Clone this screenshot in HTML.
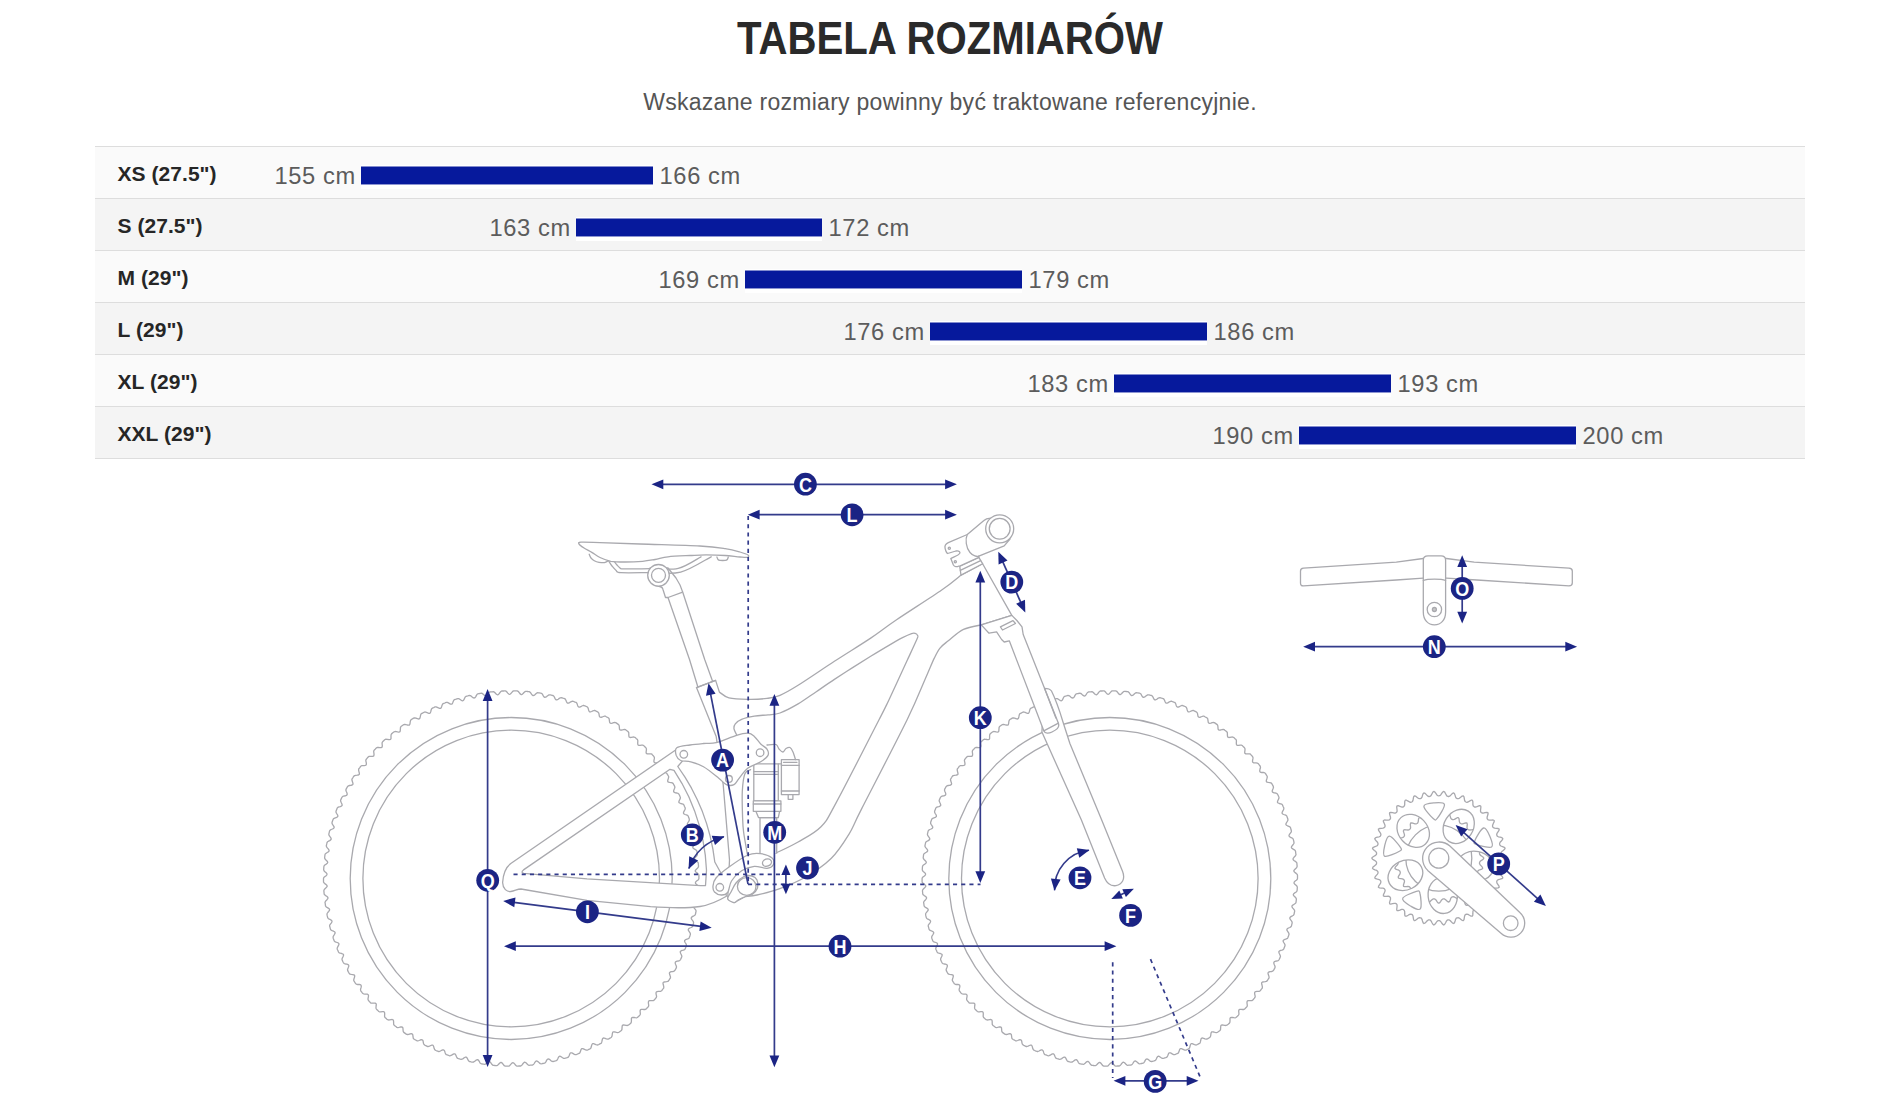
<!DOCTYPE html>
<html lang="pl"><head><meta charset="utf-8"><title>Tabela rozmiarów</title>
<style>
html,body{margin:0;padding:0;background:#fff}
body{width:1900px;height:1102px;position:relative;overflow:hidden;font-family:"Liberation Sans",sans-serif}
h1{position:absolute;left:0;top:8px;width:1900px;margin:0;text-align:center;font-size:46px;line-height:60px;font-weight:bold;color:#2a2a2a;letter-spacing:0;transform:scaleX(0.873);transform-origin:949.5px 0}
p.sub{position:absolute;left:0;top:87px;width:1900px;margin:0;text-align:center;font-size:23px;line-height:30px;color:#555;letter-spacing:0.28px}
.tbl{position:absolute;left:95px;top:146px;width:1710px;border-bottom:1px solid #dddddd}
.row{position:relative;height:51px;border-top:1px solid #dddddd;background:#fafafa}
.row.r1{background:#f4f4f4}
.nm{position:absolute;left:22.5px;top:14px;font-size:21px;line-height:26px;font-weight:bold;color:#262626;letter-spacing:0.05px}
.v{position:absolute;top:14px;font-size:23.7px;line-height:30px;color:#5c5c5c;white-space:nowrap;letter-spacing:0.6px}
.bar{position:absolute;top:18px;height:24px;background:linear-gradient(#fff 0 1px,#838cce 1px 2px,#06199c 2px 19px,#8d95d2 19px 20px,#fff 20px 24px)}
svg{position:absolute;left:0;top:0}
.lt{fill:#fff;stroke:none;font-family:"Liberation Sans",sans-serif;font-weight:bold}
</style></head><body>
<h1>TABELA ROZMIARÓW</h1>
<p class="sub">Wskazane rozmiary powinny być traktowane referencyjnie.</p>
<div class="tbl">
<div class="row r0"><span class="nm">XS (27.5")</span><span class="v l" style="right:1449.2px">155 cm</span><span class="bar" style="left:266px;width:292px"></span><span class="v" style="left:564.6px">166 cm</span></div>
<div class="row r1"><span class="nm">S (27.5")</span><span class="v l" style="right:1234.2px">163 cm</span><span class="bar" style="left:481px;width:246px"></span><span class="v" style="left:733.6px">172 cm</span></div>
<div class="row r0"><span class="nm">M (29")</span><span class="v l" style="right:1065.2px">169 cm</span><span class="bar" style="left:650px;width:277px"></span><span class="v" style="left:933.6px">179 cm</span></div>
<div class="row r1"><span class="nm">L (29")</span><span class="v l" style="right:880.2px">176 cm</span><span class="bar" style="left:835px;width:277px"></span><span class="v" style="left:1118.6px">186 cm</span></div>
<div class="row r0"><span class="nm">XL (29")</span><span class="v l" style="right:696.2px">183 cm</span><span class="bar" style="left:1019px;width:277px"></span><span class="v" style="left:1302.6px">193 cm</span></div>
<div class="row r1"><span class="nm">XXL (29")</span><span class="v l" style="right:511.2px">190 cm</span><span class="bar" style="left:1204px;width:277px"></span><span class="v" style="left:1487.6px">200 cm</span></div>
</div>
<svg width="1900" height="1102" viewBox="0 0 1900 1102">
<g fill="none" stroke="#a9a9ae" stroke-width="1.3" stroke-linejoin="round" stroke-linecap="round">
<clipPath id="ov"><ellipse cx="1413.2" cy="830.8" rx="18" ry="14.6" transform="rotate(-133 1413.2 830.8)"/><ellipse cx="1458.7" cy="826.4" rx="18" ry="14.6" transform="rotate(-58 1458.7 826.4)"/><ellipse cx="1475.5" cy="866.0" rx="18" ry="14.6" transform="rotate(12 1475.5 866.0)"/><ellipse cx="1442.7" cy="895.5" rx="18" ry="14.6" transform="rotate(84 1442.7 895.5)"/><ellipse cx="1405.4" cy="875.2" rx="18" ry="14.6" transform="rotate(153 1405.4 875.2)"/></clipPath>
<g id="whl"><path d="M698.9 878.5 L698.6 879.4 L697.7 880.2 L696.6 881.0 L695.7 881.9 L695.4 882.7 L695.6 883.6 L696.5 884.4 L697.5 885.3 L698.4 886.2 L698.7 887.1 L698.7 888.0 L698.6 888.8 L698.6 889.7 L698.5 890.5 L698.1 891.4 L697.2 892.2 L696.1 892.9 L695.1 893.7 L694.7 894.5 L694.9 895.4 L695.7 896.3 L696.7 897.3 L697.5 898.2 L697.8 899.1 L697.7 899.9 L697.6 900.8 L697.5 901.6 L697.4 902.5 L696.9 903.3 L695.9 904.0 L694.8 904.7 L693.8 905.4 L693.3 906.2 L693.5 907.1 L694.2 908.1 L695.1 909.1 L695.8 910.1 L696.1 911.0 L695.9 911.8 L695.8 912.7 L695.6 913.5 L695.4 914.4 L694.9 915.2 L693.9 915.8 L692.7 916.4 L691.7 917.1 L691.2 917.8 L691.3 918.7 L691.9 919.7 L692.8 920.8 L693.4 921.9 L693.6 922.8 L693.4 923.6 L693.2 924.4 L693.0 925.3 L692.8 926.1 L692.2 926.9 L691.2 927.5 L689.9 928.0 L688.8 928.6 L688.3 929.3 L688.3 930.2 L688.9 931.2 L689.7 932.4 L690.3 933.4 L690.4 934.4 L690.1 935.2 L689.9 936.0 L689.6 936.8 L689.3 937.6 L688.8 938.4 L687.7 938.9 L686.4 939.3 L685.3 939.9 L684.6 940.5 L684.6 941.4 L685.1 942.5 L685.9 943.7 L686.4 944.8 L686.4 945.7 L686.1 946.5 L685.8 947.3 L685.5 948.1 L685.2 948.9 L684.6 949.6 L683.4 950.1 L682.1 950.4 L681.0 950.9 L680.3 951.5 L680.3 952.4 L680.7 953.5 L681.3 954.7 L681.8 955.9 L681.8 956.8 L681.4 957.6 L681.1 958.4 L680.7 959.2 L680.3 959.9 L679.6 960.6 L678.5 961.0 L677.1 961.2 L676.0 961.6 L675.3 962.2 L675.2 963.1 L675.5 964.2 L676.1 965.5 L676.5 966.7 L676.4 967.6 L676.0 968.4 L675.6 969.1 L675.2 969.9 L674.7 970.6 L674.0 971.2 L672.9 971.5 L671.5 971.7 L670.3 972.0 L669.6 972.5 L669.4 973.4 L669.7 974.6 L670.2 975.9 L670.5 977.1 L670.4 978.0 L669.9 978.7 L669.4 979.5 L669.0 980.2 L668.5 980.9 L667.8 981.4 L666.6 981.7 L665.2 981.8 L664.0 982.0 L663.2 982.5 L663.0 983.4 L663.2 984.5 L663.6 985.9 L663.8 987.1 L663.7 988.0 L663.2 988.7 L662.6 989.4 L662.1 990.1 L661.6 990.8 L660.8 991.3 L659.6 991.4 L658.3 991.4 L657.1 991.6 L656.3 992.0 L656.0 992.9 L656.1 994.1 L656.4 995.4 L656.6 996.6 L656.3 997.5 L655.8 998.2 L655.2 998.9 L654.7 999.5 L654.1 1000.2 L653.3 1000.6 L652.1 1000.7 L650.7 1000.6 L649.5 1000.7 L648.7 1001.1 L648.4 1001.9 L648.4 1003.1 L648.6 1004.5 L648.7 1005.7 L648.4 1006.6 L647.8 1007.2 L647.2 1007.8 L646.6 1008.5 L646.0 1009.1 L645.2 1009.5 L644.0 1009.5 L642.6 1009.3 L641.4 1009.3 L640.6 1009.6 L640.2 1010.4 L640.1 1011.6 L640.3 1013.0 L640.3 1014.2 L639.9 1015.1 L639.3 1015.7 L638.7 1016.3 L638.0 1016.9 L637.4 1017.5 L636.5 1017.8 L635.3 1017.7 L634.0 1017.5 L632.8 1017.4 L631.9 1017.7 L631.4 1018.4 L631.4 1019.6 L631.4 1021.0 L631.3 1022.2 L630.9 1023.1 L630.2 1023.6 L629.6 1024.2 L628.9 1024.7 L628.2 1025.2 L627.4 1025.5 L626.1 1025.4 L624.8 1025.1 L623.6 1024.9 L622.7 1025.1 L622.2 1025.9 L622.1 1027.0 L622.0 1028.4 L621.9 1029.6 L621.4 1030.5 L620.7 1031.0 L620.0 1031.5 L619.3 1032.0 L618.6 1032.4 L617.7 1032.7 L616.5 1032.4 L615.2 1032.0 L614.0 1031.8 L613.1 1031.9 L612.6 1032.7 L612.3 1033.8 L612.2 1035.2 L611.9 1036.4 L611.4 1037.2 L610.7 1037.7 L610.0 1038.1 L609.2 1038.6 L608.5 1039.0 L607.6 1039.2 L606.4 1038.9 L605.1 1038.4 L604.0 1038.0 L603.1 1038.2 L602.5 1038.8 L602.2 1040.0 L601.9 1041.4 L601.6 1042.5 L601.1 1043.3 L600.3 1043.7 L599.5 1044.1 L598.8 1044.5 L598.0 1044.9 L597.1 1045.0 L595.9 1044.6 L594.7 1044.1 L593.6 1043.7 L592.6 1043.7 L592.0 1044.4 L591.6 1045.5 L591.3 1046.8 L590.9 1048.0 L590.3 1048.7 L589.5 1049.1 L588.7 1049.4 L588.0 1049.8 L587.2 1050.1 L586.3 1050.2 L585.1 1049.7 L583.9 1049.1 L582.8 1048.6 L581.9 1048.6 L581.2 1049.2 L580.8 1050.3 L580.4 1051.6 L579.9 1052.8 L579.2 1053.4 L578.4 1053.7 L577.6 1054.0 L576.8 1054.4 L576.0 1054.7 L575.1 1054.6 L574.0 1054.1 L572.8 1053.4 L571.8 1052.8 L570.8 1052.8 L570.1 1053.3 L569.6 1054.4 L569.1 1055.7 L568.6 1056.8 L567.9 1057.4 L567.1 1057.7 L566.3 1057.9 L565.4 1058.2 L564.6 1058.4 L563.7 1058.4 L562.6 1057.8 L561.5 1057.0 L560.5 1056.4 L559.6 1056.2 L558.8 1056.8 L558.2 1057.8 L557.7 1059.0 L557.1 1060.1 L556.3 1060.7 L555.5 1060.9 L554.6 1061.1 L553.8 1061.3 L553.0 1061.5 L552.1 1061.4 L551.0 1060.7 L550.0 1059.8 L549.0 1059.1 L548.1 1059.0 L547.3 1059.4 L546.6 1060.4 L546.0 1061.6 L545.3 1062.7 L544.5 1063.2 L543.7 1063.4 L542.9 1063.5 L542.0 1063.7 L541.2 1063.8 L540.3 1063.6 L539.3 1062.9 L538.3 1061.9 L537.3 1061.2 L536.4 1061.0 L535.6 1061.4 L534.9 1062.3 L534.2 1063.5 L533.5 1064.5 L532.6 1065.0 L531.8 1065.1 L530.9 1065.2 L530.1 1065.2 L529.2 1065.3 L528.3 1065.1 L527.4 1064.3 L526.5 1063.3 L525.6 1062.5 L524.7 1062.2 L523.9 1062.6 L523.1 1063.5 L522.3 1064.6 L521.5 1065.5 L520.7 1066.0 L519.8 1066.0 L518.9 1066.0 L518.1 1066.1 L517.2 1066.1 L516.3 1065.8 L515.5 1065.0 L514.6 1063.9 L513.7 1063.0 L512.9 1062.7 L512.0 1063.0 L511.2 1063.9 L510.3 1064.9 L509.5 1065.8 L508.6 1066.2 L507.8 1066.2 L506.9 1066.2 L506.0 1066.1 L505.2 1066.1 L504.3 1065.7 L503.5 1064.8 L502.7 1063.7 L501.9 1062.8 L501.1 1062.4 L500.2 1062.7 L499.3 1063.5 L498.4 1064.5 L497.5 1065.3 L496.6 1065.6 L495.7 1065.6 L494.9 1065.5 L494.0 1065.4 L493.2 1065.3 L492.4 1064.9 L491.6 1064.0 L490.9 1062.8 L490.1 1061.8 L489.3 1061.4 L488.4 1061.6 L487.5 1062.3 L486.5 1063.3 L485.5 1064.1 L484.6 1064.3 L483.8 1064.2 L482.9 1064.1 L482.1 1063.9 L481.2 1063.8 L480.4 1063.3 L479.7 1062.3 L479.1 1061.1 L478.4 1060.1 L477.6 1059.6 L476.8 1059.8 L475.8 1060.4 L474.7 1061.3 L473.7 1062.0 L472.8 1062.2 L472.0 1062.1 L471.1 1061.9 L470.3 1061.7 L469.4 1061.5 L468.7 1061.0 L468.0 1059.9 L467.5 1058.7 L466.8 1057.6 L466.1 1057.1 L465.2 1057.2 L464.2 1057.8 L463.1 1058.6 L462.0 1059.2 L461.1 1059.4 L460.3 1059.2 L459.4 1058.9 L458.6 1058.7 L457.8 1058.4 L457.1 1057.9 L456.5 1056.8 L456.0 1055.5 L455.5 1054.4 L454.8 1053.8 L453.9 1053.9 L452.8 1054.4 L451.6 1055.2 L450.5 1055.7 L449.6 1055.8 L448.8 1055.5 L448.0 1055.2 L447.2 1054.9 L446.4 1054.7 L445.7 1054.0 L445.2 1052.9 L444.8 1051.6 L444.3 1050.5 L443.6 1049.9 L442.7 1049.8 L441.6 1050.3 L440.5 1051.0 L439.3 1051.5 L438.4 1051.5 L437.6 1051.2 L436.8 1050.8 L436.0 1050.5 L435.2 1050.1 L434.6 1049.5 L434.1 1048.3 L433.8 1047.0 L433.4 1045.9 L432.8 1045.2 L431.9 1045.1 L430.8 1045.5 L429.5 1046.1 L428.4 1046.5 L427.4 1046.5 L426.7 1046.1 L425.9 1045.7 L425.1 1045.3 L424.4 1044.9 L423.8 1044.2 L423.4 1043.1 L423.2 1041.7 L422.9 1040.5 L422.3 1039.8 L421.4 1039.7 L420.2 1040.0 L419.0 1040.5 L417.8 1040.9 L416.9 1040.8 L416.1 1040.3 L415.4 1039.9 L414.6 1039.5 L413.9 1039.0 L413.3 1038.3 L413.1 1037.1 L412.9 1035.7 L412.7 1034.5 L412.1 1033.8 L411.3 1033.6 L410.1 1033.8 L408.8 1034.3 L407.6 1034.5 L406.7 1034.4 L405.9 1033.9 L405.2 1033.4 L404.5 1032.9 L403.8 1032.4 L403.3 1031.7 L403.1 1030.5 L403.0 1029.1 L402.9 1027.9 L402.4 1027.1 L401.5 1026.9 L400.3 1027.0 L399.0 1027.4 L397.8 1027.6 L396.9 1027.4 L396.2 1026.8 L395.5 1026.3 L394.8 1025.8 L394.2 1025.2 L393.7 1024.5 L393.6 1023.2 L393.6 1021.9 L393.5 1020.7 L393.1 1019.8 L392.2 1019.5 L391.0 1019.6 L389.7 1019.9 L388.5 1020.0 L387.6 1019.7 L386.9 1019.2 L386.3 1018.6 L385.6 1018.0 L385.0 1017.5 L384.6 1016.6 L384.6 1015.4 L384.7 1014.0 L384.6 1012.8 L384.3 1012.0 L383.5 1011.6 L382.3 1011.6 L380.9 1011.8 L379.7 1011.9 L378.8 1011.5 L378.2 1010.9 L377.6 1010.3 L377.0 1009.7 L376.4 1009.1 L376.0 1008.2 L376.0 1007.0 L376.2 1005.7 L376.3 1004.4 L376.0 1003.6 L375.2 1003.2 L374.0 1003.1 L372.6 1003.2 L371.4 1003.2 L370.5 1002.8 L370.0 1002.1 L369.4 1001.5 L368.8 1000.8 L368.3 1000.2 L368.0 999.3 L368.1 998.1 L368.4 996.8 L368.5 995.5 L368.2 994.7 L367.5 994.2 L366.3 994.1 L364.9 994.1 L363.7 993.9 L362.9 993.5 L362.3 992.8 L361.8 992.1 L361.3 991.5 L360.8 990.8 L360.5 989.9 L360.7 988.7 L361.1 987.4 L361.3 986.2 L361.1 985.3 L360.4 984.7 L359.2 984.5 L357.8 984.5 L356.6 984.3 L355.8 983.8 L355.3 983.0 L354.8 982.3 L354.4 981.6 L353.9 980.9 L353.7 980.0 L354.0 978.8 L354.4 977.5 L354.7 976.3 L354.6 975.4 L353.9 974.9 L352.7 974.6 L351.3 974.4 L350.1 974.1 L349.4 973.6 L348.9 972.8 L348.5 972.1 L348.1 971.4 L347.7 970.6 L347.5 969.7 L347.9 968.5 L348.4 967.3 L348.8 966.1 L348.7 965.2 L348.0 964.6 L346.9 964.2 L345.5 964.0 L344.3 963.6 L343.6 963.0 L343.2 962.3 L342.8 961.5 L342.5 960.7 L342.1 959.9 L342.0 959.0 L342.4 957.9 L343.0 956.7 L343.5 955.5 L343.5 954.6 L342.8 954.0 L341.7 953.5 L340.4 953.2 L339.2 952.8 L338.5 952.1 L338.2 951.3 L337.9 950.5 L337.5 949.7 L337.2 948.9 L337.2 948.0 L337.7 946.9 L338.4 945.7 L338.9 944.6 L338.9 943.7 L338.3 943.0 L337.3 942.5 L336.0 942.1 L334.8 941.6 L334.2 940.9 L333.9 940.1 L333.6 939.3 L333.3 938.5 L333.1 937.6 L333.1 936.7 L333.7 935.6 L334.4 934.5 L335.0 933.4 L335.1 932.5 L334.6 931.8 L333.5 931.2 L332.2 930.7 L331.1 930.2 L330.5 929.4 L330.3 928.6 L330.1 927.8 L329.9 926.9 L329.6 926.1 L329.7 925.2 L330.4 924.2 L331.2 923.1 L331.9 922.0 L332.0 921.1 L331.5 920.4 L330.5 919.7 L329.3 919.2 L328.2 918.5 L327.7 917.7 L327.5 916.9 L327.3 916.1 L327.1 915.2 L327.0 914.4 L327.1 913.5 L327.8 912.5 L328.7 911.4 L329.4 910.5 L329.6 909.6 L329.2 908.8 L328.2 908.1 L327.0 907.4 L326.0 906.7 L325.5 905.9 L325.4 905.1 L325.3 904.2 L325.2 903.4 L325.0 902.5 L325.3 901.6 L326.0 900.7 L327.0 899.7 L327.8 898.7 L328.0 897.9 L327.6 897.1 L326.7 896.3 L325.6 895.6 L324.6 894.8 L324.1 894.0 L324.1 893.1 L324.0 892.2 L323.9 891.4 L323.9 890.5 L324.2 889.6 L325.0 888.7 L326.0 887.8 L326.8 886.9 L327.2 886.1 L326.8 885.3 L325.9 884.4 L324.8 883.6 L323.9 882.8 L323.5 881.9 L323.5 881.1 L323.5 880.2 L323.5 879.4 L323.5 878.5 L323.8 877.6 L324.7 876.8 L325.8 876.0 L326.7 875.1 L327.0 874.3 L326.8 873.4 L325.9 872.6 L324.9 871.7 L324.0 870.8 L323.7 869.9 L323.7 869.0 L323.8 868.2 L323.8 867.3 L323.9 866.5 L324.3 865.6 L325.2 864.8 L326.3 864.1 L327.3 863.3 L327.7 862.5 L327.5 861.6 L326.7 860.7 L325.7 859.7 L324.9 858.8 L324.6 857.9 L324.7 857.1 L324.8 856.2 L324.9 855.4 L325.0 854.5 L325.5 853.7 L326.5 853.0 L327.6 852.3 L328.6 851.6 L329.1 850.8 L328.9 849.9 L328.2 848.9 L327.3 847.9 L326.6 846.9 L326.3 846.0 L326.5 845.2 L326.6 844.3 L326.8 843.5 L327.0 842.6 L327.5 841.8 L328.5 841.2 L329.7 840.6 L330.7 839.9 L331.2 839.2 L331.1 838.3 L330.5 837.3 L329.6 836.2 L329.0 835.1 L328.8 834.2 L329.0 833.4 L329.2 832.6 L329.4 831.7 L329.6 830.9 L330.2 830.1 L331.2 829.5 L332.5 829.0 L333.6 828.4 L334.1 827.7 L334.1 826.8 L333.5 825.8 L332.7 824.6 L332.1 823.6 L332.0 822.6 L332.3 821.8 L332.5 821.0 L332.8 820.2 L333.1 819.4 L333.6 818.6 L334.7 818.1 L336.0 817.7 L337.1 817.1 L337.8 816.5 L337.8 815.6 L337.3 814.5 L336.5 813.3 L336.0 812.2 L336.0 811.3 L336.3 810.5 L336.6 809.7 L336.9 808.9 L337.2 808.1 L337.8 807.4 L339.0 806.9 L340.3 806.6 L341.4 806.1 L342.1 805.5 L342.1 804.6 L341.7 803.5 L341.1 802.3 L340.6 801.1 L340.6 800.2 L341.0 799.4 L341.3 798.6 L341.7 797.8 L342.1 797.1 L342.8 796.4 L343.9 796.0 L345.3 795.8 L346.4 795.4 L347.1 794.8 L347.2 793.9 L346.9 792.8 L346.3 791.5 L345.9 790.3 L346.0 789.4 L346.4 788.6 L346.8 787.9 L347.2 787.1 L347.7 786.4 L348.4 785.8 L349.5 785.5 L350.9 785.3 L352.1 785.0 L352.8 784.5 L353.0 783.6 L352.7 782.4 L352.2 781.1 L351.9 779.9 L352.0 779.0 L352.5 778.3 L353.0 777.5 L353.4 776.8 L353.9 776.1 L354.6 775.6 L355.8 775.3 L357.2 775.2 L358.4 775.0 L359.2 774.5 L359.4 773.6 L359.2 772.5 L358.8 771.1 L358.6 769.9 L358.7 769.0 L359.2 768.3 L359.8 767.6 L360.3 766.9 L360.8 766.2 L361.6 765.7 L362.8 765.6 L364.1 765.6 L365.3 765.4 L366.1 765.0 L366.4 764.1 L366.3 762.9 L366.0 761.6 L365.8 760.4 L366.1 759.5 L366.6 758.8 L367.2 758.1 L367.7 757.5 L368.3 756.8 L369.1 756.4 L370.3 756.3 L371.7 756.4 L372.9 756.3 L373.7 755.9 L374.0 755.1 L374.0 753.9 L373.8 752.5 L373.7 751.3 L374.0 750.4 L374.6 749.8 L375.2 749.2 L375.8 748.5 L376.4 747.9 L377.2 747.5 L378.4 747.5 L379.8 747.7 L381.0 747.7 L381.8 747.4 L382.2 746.6 L382.3 745.4 L382.1 744.0 L382.1 742.8 L382.5 741.9 L383.1 741.3 L383.7 740.7 L384.4 740.1 L385.0 739.5 L385.9 739.2 L387.1 739.3 L388.4 739.5 L389.6 739.6 L390.5 739.3 L391.0 738.6 L391.0 737.4 L391.0 736.0 L391.1 734.8 L391.5 733.9 L392.2 733.4 L392.8 732.8 L393.5 732.3 L394.2 731.8 L395.0 731.5 L396.3 731.6 L397.6 731.9 L398.8 732.1 L399.7 731.9 L400.2 731.1 L400.3 730.0 L400.4 728.6 L400.5 727.4 L401.0 726.5 L401.7 726.0 L402.4 725.5 L403.1 725.0 L403.8 724.6 L404.7 724.3 L405.9 724.6 L407.2 725.0 L408.4 725.2 L409.3 725.1 L409.8 724.3 L410.1 723.2 L410.2 721.8 L410.5 720.6 L411.0 719.8 L411.7 719.3 L412.4 718.9 L413.2 718.4 L413.9 718.0 L414.8 717.8 L416.0 718.1 L417.3 718.6 L418.4 719.0 L419.3 718.8 L419.9 718.2 L420.2 717.0 L420.5 715.6 L420.8 714.5 L421.3 713.7 L422.1 713.3 L422.9 712.9 L423.6 712.5 L424.4 712.1 L425.3 712.0 L426.5 712.4 L427.7 712.9 L428.8 713.3 L429.8 713.3 L430.4 712.6 L430.8 711.5 L431.1 710.2 L431.5 709.0 L432.1 708.3 L432.9 707.9 L433.7 707.6 L434.4 707.2 L435.2 706.9 L436.1 706.8 L437.3 707.3 L438.5 707.9 L439.6 708.4 L440.5 708.4 L441.2 707.8 L441.6 706.7 L442.0 705.4 L442.5 704.2 L443.2 703.6 L444.0 703.3 L444.8 703.0 L445.6 702.6 L446.4 702.3 L447.3 702.4 L448.4 702.9 L449.6 703.6 L450.6 704.2 L451.6 704.2 L452.3 703.7 L452.8 702.6 L453.3 701.3 L453.8 700.2 L454.5 699.6 L455.3 699.3 L456.1 699.1 L457.0 698.8 L457.8 698.6 L458.7 698.6 L459.8 699.2 L460.9 700.0 L461.9 700.6 L462.8 700.8 L463.6 700.2 L464.2 699.2 L464.7 698.0 L465.3 696.9 L466.1 696.3 L466.9 696.1 L467.8 695.9 L468.6 695.7 L469.4 695.5 L470.3 695.6 L471.4 696.3 L472.4 697.2 L473.4 697.9 L474.3 698.0 L475.1 697.6 L475.8 696.6 L476.4 695.4 L477.1 694.3 L477.9 693.8 L478.7 693.6 L479.5 693.5 L480.4 693.3 L481.2 693.2 L482.1 693.4 L483.1 694.1 L484.1 695.1 L485.1 695.8 L486.0 696.0 L486.8 695.6 L487.5 694.7 L488.2 693.5 L488.9 692.5 L489.8 692.0 L490.6 691.9 L491.5 691.8 L492.3 691.8 L493.2 691.7 L494.1 691.9 L495.0 692.7 L495.9 693.7 L496.8 694.5 L497.7 694.8 L498.5 694.4 L499.3 693.5 L500.1 692.4 L500.9 691.5 L501.7 691.0 L502.6 691.0 L503.5 691.0 L504.3 690.9 L505.2 690.9 L506.1 691.2 L506.9 692.0 L507.8 693.1 L508.7 694.0 L509.5 694.3 L510.4 694.0 L511.2 693.1 L512.1 692.1 L512.9 691.2 L513.8 690.8 L514.6 690.8 L515.5 690.8 L516.4 690.9 L517.2 690.9 L518.1 691.3 L518.9 692.2 L519.7 693.3 L520.5 694.2 L521.3 694.6 L522.2 694.3 L523.1 693.5 L524.0 692.5 L524.9 691.7 L525.8 691.4 L526.7 691.4 L527.5 691.5 L528.4 691.6 L529.2 691.7 L530.0 692.1 L530.8 693.0 L531.5 694.2 L532.3 695.2 L533.1 695.6 L534.0 695.4 L534.9 694.7 L535.9 693.7 L536.9 692.9 L537.8 692.7 L538.6 692.8 L539.5 692.9 L540.3 693.1 L541.2 693.2 L542.0 693.7 L542.7 694.7 L543.3 695.9 L544.0 696.9 L544.8 697.4 L545.6 697.2 L546.6 696.6 L547.7 695.7 L548.7 695.0 L549.6 694.8 L550.4 694.9 L551.3 695.1 L552.1 695.3 L553.0 695.5 L553.7 696.0 L554.4 697.1 L554.9 698.3 L555.6 699.4 L556.3 699.9 L557.2 699.8 L558.2 699.2 L559.3 698.4 L560.4 697.8 L561.3 697.6 L562.1 697.8 L563.0 698.1 L563.8 698.3 L564.6 698.6 L565.3 699.1 L565.9 700.2 L566.4 701.5 L566.9 702.6 L567.6 703.2 L568.5 703.1 L569.6 702.6 L570.8 701.8 L571.9 701.3 L572.8 701.2 L573.6 701.5 L574.4 701.8 L575.2 702.1 L576.0 702.3 L576.7 703.0 L577.2 704.1 L577.6 705.4 L578.1 706.5 L578.8 707.1 L579.7 707.2 L580.8 706.7 L581.9 706.0 L583.1 705.5 L584.0 705.5 L584.8 705.8 L585.6 706.2 L586.4 706.5 L587.2 706.9 L587.8 707.5 L588.3 708.7 L588.6 710.0 L589.0 711.1 L589.6 711.8 L590.5 711.9 L591.6 711.5 L592.9 710.9 L594.0 710.5 L595.0 710.5 L595.7 710.9 L596.5 711.3 L597.3 711.7 L598.0 712.1 L598.6 712.8 L599.0 713.9 L599.2 715.3 L599.5 716.5 L600.1 717.2 L601.0 717.3 L602.2 717.0 L603.4 716.5 L604.6 716.1 L605.5 716.2 L606.3 716.7 L607.0 717.1 L607.8 717.5 L608.5 718.0 L609.1 718.7 L609.3 719.9 L609.5 721.3 L609.7 722.5 L610.3 723.2 L611.1 723.4 L612.3 723.2 L613.6 722.7 L614.8 722.5 L615.7 722.6 L616.5 723.1 L617.2 723.6 L617.9 724.1 L618.6 724.6 L619.1 725.3 L619.3 726.5 L619.4 727.9 L619.5 729.1 L620.0 729.9 L620.9 730.1 L622.1 730.0 L623.4 729.6 L624.6 729.4 L625.5 729.6 L626.2 730.2 L626.9 730.7 L627.6 731.2 L628.2 731.8 L628.7 732.5 L628.8 733.8 L628.8 735.1 L628.9 736.3 L629.3 737.2 L630.2 737.5 L631.4 737.4 L632.7 737.1 L633.9 737.0 L634.8 737.3 L635.5 737.8 L636.1 738.4 L636.8 739.0 L637.4 739.5 L637.8 740.4 L637.8 741.6 L637.7 743.0 L637.8 744.2 L638.1 745.0 L638.9 745.4 L640.1 745.4 L641.5 745.2 L642.7 745.1 L643.6 745.5 L644.2 746.1 L644.8 746.7 L645.4 747.3 L646.0 747.9 L646.4 748.8 L646.4 750.0 L646.2 751.3 L646.1 752.6 L646.4 753.4 L647.2 753.8 L648.4 753.9 L649.8 753.8 L651.0 753.8 L651.9 754.2 L652.4 754.9 L653.0 755.5 L653.6 756.2 L654.1 756.8 L654.4 757.7 L654.3 758.9 L654.0 760.2 L653.9 761.5 L654.2 762.3 L654.9 762.8 L656.1 762.9 L657.5 762.9 L658.7 763.1 L659.5 763.5 L660.1 764.2 L660.6 764.9 L661.1 765.5 L661.6 766.2 L661.9 767.1 L661.7 768.3 L661.3 769.6 L661.1 770.8 L661.3 771.7 L662.0 772.3 L663.2 772.5 L664.6 772.5 L665.8 772.7 L666.6 773.2 L667.1 774.0 L667.6 774.7 L668.0 775.4 L668.5 776.1 L668.7 777.0 L668.4 778.2 L668.0 779.5 L667.7 780.7 L667.8 781.6 L668.5 782.1 L669.7 782.4 L671.1 782.6 L672.3 782.9 L673.0 783.4 L673.5 784.2 L673.9 784.9 L674.3 785.6 L674.7 786.4 L674.9 787.3 L674.5 788.5 L674.0 789.7 L673.6 790.9 L673.7 791.8 L674.4 792.4 L675.5 792.8 L676.9 793.0 L678.1 793.4 L678.8 794.0 L679.2 794.7 L679.6 795.5 L679.9 796.3 L680.3 797.1 L680.4 798.0 L680.0 799.1 L679.4 800.3 L678.9 801.5 L678.9 802.4 L679.6 803.0 L680.7 803.5 L682.0 803.8 L683.2 804.2 L683.9 804.9 L684.2 805.7 L684.5 806.5 L684.9 807.3 L685.2 808.1 L685.2 809.0 L684.7 810.1 L684.0 811.3 L683.5 812.4 L683.5 813.3 L684.1 814.0 L685.1 814.5 L686.4 814.9 L687.6 815.4 L688.2 816.1 L688.5 816.9 L688.8 817.7 L689.1 818.5 L689.3 819.4 L689.3 820.3 L688.7 821.4 L688.0 822.5 L687.4 823.6 L687.3 824.5 L687.8 825.2 L688.9 825.8 L690.2 826.3 L691.3 826.8 L691.9 827.6 L692.1 828.4 L692.3 829.2 L692.5 830.1 L692.8 830.9 L692.7 831.8 L692.0 832.8 L691.2 833.9 L690.5 835.0 L690.4 835.9 L690.9 836.6 L691.9 837.3 L693.1 837.8 L694.2 838.5 L694.7 839.3 L694.9 840.1 L695.1 840.9 L695.3 841.8 L695.4 842.6 L695.3 843.5 L694.6 844.5 L693.7 845.6 L693.0 846.5 L692.8 847.4 L693.2 848.2 L694.2 848.9 L695.4 849.6 L696.4 850.3 L696.9 851.1 L697.0 851.9 L697.1 852.8 L697.2 853.6 L697.4 854.5 L697.1 855.4 L696.4 856.3 L695.4 857.3 L694.6 858.3 L694.4 859.1 L694.8 859.9 L695.7 860.7 L696.8 861.4 L697.8 862.2 L698.3 863.0 L698.3 863.9 L698.4 864.8 L698.5 865.6 L698.5 866.5 L698.2 867.4 L697.4 868.3 L696.4 869.2 L695.6 870.1 L695.2 870.9 L695.6 871.7 L696.5 872.6 L697.6 873.4 L698.5 874.2 L698.9 875.1 L698.9 875.9 L698.9 876.8 L698.9 877.6Z"/><circle cx="511.2" cy="878.5" r="161"/><circle cx="511.2" cy="878.5" r="148.3"/></g>
<use href="#whl" x="598.5999999999999" y="0"/>
<path d="M677.8 748.5 L510.8 863.5 C505 868 503 876 502.6 882.6 C502.8 889 507 892 510.8 891.5 C515 891 517 889 521 889 L587 900.4 L650.6 906.7 C670 908 690 908 700 906.5 C712 904.5 720 900 726.4 896.2 L722 875 L714.8 862.0 L712.9 849.1 L710.2 836.4 L706.7 823.9 L702.4 811.6 L697.3 799.8 L691.5 788.2 L685.0 777.1 L677.8 766.5 L690 752 Z M670 769.3 L523.5 869.9 C521.5 871.5 521.5 873 524 873.3 L587 878.8 L696 885.3 C701 885.6 704 885.8 705.5 885.5 L706.5 870.3 L705.3 855.2 L702.9 840.1 L699.3 825.4 L694.6 810.9 L688.8 796.8 L681.9 783.3 L674.0 770.3 Z" fill="#fff" fill-rule="evenodd"/>
<path d="M657.8 586 C661 586.5 662.5 587.5 662.9 589.2 L665.5 597.5 L668 597.5 L689.6 659.8 L700 694 L715 688 L704.8 659.8 L682.6 591.8 C681 586 680 584 676 578 L668 568 L650 568 Z" fill="#fff"/>
<path d="M668.0 597.5 L682.0 592.3"/>
<path d="M608.9 561.3 C609.4 562.1 610.8 564.5 612.0 566.0 C613.2 567.5 614.4 569.1 615.9 570.2 C617.4 571.3 615.3 572.3 621.0 572.7 C626.7 573.1 640.0 572.7 650.0 572.6 C660.0 572.5 670.5 574.7 680.7 572.1 C690.9 569.5 706.1 559.3 711.2 556.8"/>
<path d="M614.6 561.9 C615.0 562.4 616.1 564.0 617.0 565.0 C617.9 566.0 618.6 567.0 619.7 567.6 C620.8 568.2 618.5 568.7 623.5 568.9 C628.5 569.1 640.9 568.8 650.0 568.7 C659.1 568.6 669.7 570.3 678.2 568.3 C686.7 566.3 697.2 558.7 701.0 556.8"/>
<circle cx="658.5" cy="575.3" r="10.8" fill="#fff"/>
<circle cx="658.5" cy="575.3" r="7"/>
<path d="M579.1 544.1 C578.6 543.1 577.5 542.5 581.0 542.2 C584.5 542.0 590.2 542.3 600.0 542.6 C609.8 542.9 623.4 543.4 640.0 544.0 C656.6 544.6 685.6 545.2 699.8 546.0 C714.0 546.8 718.5 547.6 725.2 548.6 C731.9 549.6 736.2 550.9 740.0 552.0 C743.8 553.1 746.8 554.1 748.0 555.0 C749.2 555.9 748.8 557.0 747.5 557.3 C746.2 557.6 743.8 557.3 740.0 557.0 C736.2 556.7 730.6 555.9 725.0 555.5 C719.4 555.1 711.9 554.9 706.1 554.9 C700.3 554.9 696.4 555.2 690.0 555.5 C683.6 555.8 673.8 556.1 668.0 556.8 C662.2 557.5 659.2 558.8 655.0 559.5 C650.8 560.2 647.6 560.9 642.6 561.3 C637.6 561.7 630.3 562.0 625.0 562.0 C619.7 562.0 615.0 562.0 610.8 561.3 C606.6 560.5 603.2 559.0 600.0 557.5 C596.8 556.0 594.5 554.0 591.8 552.4 C589.1 550.8 586.1 549.4 584.0 548.0 C581.9 546.6 579.6 545.1 579.1 544.1Z" fill="#fff"/>
<path d="M589.2 554.3 C589.5 554.9 590.1 556.9 591.0 558.0 C591.9 559.1 593.0 560.0 594.3 560.7 C595.6 561.4 597.3 562.0 599.0 562.3 C600.7 562.6 603.0 562.9 604.5 562.6 C606.0 562.3 607.7 561.0 608.3 560.7"/>
<path d="M716.9 557.0 C717.1 557.4 717.5 558.9 718.0 559.5 C718.5 560.1 718.9 560.2 720.1 560.4 C721.3 560.5 724.0 560.5 725.2 560.4 C726.4 560.2 726.8 560.1 727.3 559.5 C727.8 558.9 728.1 557.4 728.3 557.0"/>
<path d="M696.5 687.6 L715.6 680.4 L719.4 692.1  C721.0 693.0 724.1 696.6 728.9 697.8 C733.7 699.0 741.6 699.2 748.0 699.3 C754.4 699.4 761.7 699.1 767.0 698.4 C772.3 697.7 774.8 697.5 780.0 695.3 C785.2 693.1 789.0 691.0 798.1 685.3 C807.2 679.6 822.3 669.2 834.4 661.3 C846.5 653.4 860.4 645.0 870.7 638.1 C881.0 631.2 884.4 628.0 896.2 620.0 C908.0 612.0 930.9 597.5 941.7 590.0 C952.5 582.5 957.8 577.6 961.0 575.1 L982.6 563.7 L1011.8 615.4 L981.3 624.9  C978.3 625.6 969.0 626.8 963.5 629.4 C958.0 632.0 952.2 637.7 948.3 640.8 C944.4 643.9 942.3 645.2 940.0 648.1 C937.7 651.0 936.8 653.0 934.3 658.1 C931.8 663.2 929.8 668.7 925.2 679.0 C920.7 689.3 917.6 698.4 907.0 720.0 C896.4 741.6 871.3 789.9 861.6 808.9 C851.9 827.9 854.0 826.0 848.9 834.3 C843.8 842.6 838.4 851.4 831.1 858.5 C823.8 865.6 813.8 872.2 805.2 877.2 C796.7 882.2 787.8 885.6 779.8 888.6 C771.8 891.6 762.7 893.7 757.0 895.0 C751.3 896.3 747.4 896.2 745.5 896.5 L734 902.6 L727.7 898.8 L729.5 860 L723.2 784.6 L716.2 736.6 Z" fill="#fff"/>
<path d="M736.6 734.7 C736.2 733.7 734.2 730.7 734.0 728.9 C733.8 727.1 734.0 725.5 735.3 723.9 C736.6 722.3 738.4 720.7 741.6 719.4 C744.8 718.1 749.9 717.0 754.3 716.2 C758.7 715.4 763.7 715.3 768.0 714.8 C772.3 714.3 775.0 714.8 780.0 713.0 C785.0 711.2 792.1 707.4 798.1 703.9 C804.1 700.4 810.2 695.8 816.3 691.7 C822.3 687.6 828.3 683.4 834.4 679.4 C840.5 675.4 846.5 671.5 852.6 667.6 C858.7 663.8 864.7 660.0 870.7 656.3 C876.8 652.6 883.6 648.5 888.9 645.4 C894.2 642.3 898.7 639.7 902.5 637.7 C906.3 635.7 909.5 634.3 911.6 633.6 C913.7 632.9 914.2 633.1 915.2 633.4 C916.2 633.7 917.2 634.4 917.5 635.4 C917.8 636.4 918.8 634.9 917.0 639.1 C915.2 643.3 911.7 650.7 907.0 660.8 C902.3 670.9 893.6 690.0 888.9 699.9 C884.2 709.8 887.7 702.9 878.9 720.0 C870.1 737.1 845.9 784.8 836.2 802.6 C826.6 820.4 827.4 820.1 821.0 826.7 C814.6 833.3 805.7 837.5 798.1 842.0 C790.5 846.5 779.0 851.5 775.2 853.4"/>
<path d="M750.6 769.6 C749.6 770.3 746.3 770.1 744.9 773.8 C743.5 777.4 742.7 784.2 742.3 791.5 C741.9 798.8 742.4 810.9 742.6 817.6 C742.8 824.4 742.8 825.8 743.6 832.0 C744.4 838.2 746.9 851.2 747.5 855.0"/>
<path d="M696.5 687.6 L715.6 680.4"/>
<path d="M760.0 856.0 L760.0 817.6 L776.7 817.6 L776.7 853.2" fill="#fff"/>
<path d="M755.9 811.3 L758.5 817.6 L778.3 817.6 L779.6 811.3Z" fill="#fff"/>
<path d="M753.8 763.9 L778.3 763.9 L778.3 800.9 L753.8 800.9Z" fill="#fff"/>
<path d="M753.8 771.7 L778.3 771.7"/>
<path d="M753.8 774.3 L778.3 774.3"/>
<path d="M753.3 800.9 L780.9 800.9 L780.9 811.3 L753.3 811.3Z" fill="#fff"/>
<path d="M753.3 804.0 L780.9 804.0"/>
<path d="M781.4 759.7 L799.1 759.7 L799.1 794.6 L781.4 794.6Z" fill="#fff"/>
<path d="M781.4 765.4 L799.1 765.4"/>
<path d="M781.4 791.0 L799.1 791.0"/>
<path d="M783.5 762.3 L797.0 762.3"/>
<path d="M788.2 794.6 L788.2 799.3 L792.9 799.3 L792.9 794.6"/>
<path d="M767.0 745.0 C768.5 744.9 774.0 743.8 776.0 744.5 C778.0 745.2 777.8 747.8 779.0 749.0 C780.2 750.2 781.8 752.1 783.0 752.0 C784.2 751.9 784.8 749.2 786.0 748.5 C787.2 747.8 788.8 746.9 790.0 747.5 C791.2 748.1 792.1 750.0 793.0 752.0 C793.9 754.0 795.1 758.4 795.5 759.7"/>
<path d="M778.3 763.9 L781.4 763.9"/>
<path d="M676.8 747.8 C679.1 746.1 685.5 745.7 690.0 745.0 C694.5 744.3 699.1 743.9 703.5 743.5 C707.9 743.1 710.7 744.1 716.2 742.7 C721.7 741.3 731.3 736.9 736.6 735.3 C741.9 733.7 745.0 733.0 748.0 733.2 C751.0 733.4 752.2 734.6 754.3 736.4 C756.4 738.2 758.6 741.9 760.7 744.0 C762.8 746.1 765.8 747.2 767.0 749.1 C768.2 751.0 769.0 753.3 768.0 755.4 C767.0 757.5 764.0 759.7 760.7 761.8 C757.4 763.9 751.6 765.4 748.0 768.1 C744.4 770.9 741.4 775.5 739.1 778.3 C736.8 781.0 736.1 783.5 734.0 784.6 C731.9 785.7 728.9 785.7 726.4 784.6 C723.9 783.5 722.6 781.3 718.8 778.3 C715.0 775.3 708.2 769.5 703.5 766.8 C698.8 764.0 694.6 762.8 690.8 761.8 C687.0 760.8 683.1 761.6 680.7 760.5 C678.3 759.4 676.9 757.5 676.2 755.4 C675.6 753.3 674.5 749.5 676.8 747.8Z" fill="#fff"/>
<circle cx="683.8" cy="754.3" r="3.8"/>
<circle cx="760.1" cy="752.7" r="3.8"/>
<circle cx="728.9" cy="778.9" r="3.4"/>
<path d="M713.0 886.0 C713.2 883.7 713.3 881.2 716.0 878.0 C718.7 874.8 723.7 870.8 729.0 867.0 C734.3 863.2 742.7 857.2 748.0 855.0 C753.3 852.8 756.7 853.2 760.7 853.7 C764.7 854.2 770.0 856.3 772.1 858.1 C774.2 859.9 774.2 862.8 773.4 864.5 C772.5 866.2 770.2 868.0 767.0 868.3 C763.8 868.6 758.5 866.0 754.3 866.4 C750.1 866.8 745.4 868.4 741.6 870.8 C737.8 873.2 733.8 877.4 731.5 881.0 C729.2 884.6 729.4 890.1 727.7 892.4 C726.0 894.7 723.5 895.1 721.3 895.0 C719.1 894.9 715.9 893.5 714.5 892.0 C713.1 890.5 712.8 888.3 713.0 886.0Z" fill="#fff"/>
<circle cx="719.8" cy="887.3" r="3.8"/>
<ellipse cx="767" cy="862.6" rx="4.6" ry="3.6" transform="rotate(-20 767 862.6)"/>
<path d="M727.7 898.8 C727.2 897.0 729.6 894.6 731.0 892.0 C732.4 889.4 733.8 885.6 736.0 883.0 C738.2 880.4 741.3 877.7 744.0 876.5 C746.7 875.3 749.8 875.4 752.0 876.0 C754.2 876.6 756.1 878.0 757.0 880.0 C757.9 882.0 758.3 885.6 757.5 888.0 C756.7 890.4 754.0 893.1 752.0 894.5 C750.0 895.9 747.8 895.6 745.5 896.5 C743.2 897.4 739.9 899.0 738.0 900.0 C736.1 901.0 735.7 902.8 734.0 902.6 C732.3 902.4 728.2 900.6 727.7 898.8Z" fill="#fff"/>
<ellipse cx="746.7" cy="886.5" rx="9.3" ry="8.8"/>
<path d="M1044.5 688.3 C1048 688.3 1050 688.8 1051.5 691 C1056 700 1060 712 1063 722 L1069.9 743.5 L1101.6 819.8 L1122.6 871.5 C1125.5 879 1122 884.6 1116 885.6 C1110 886.5 1106.6 882.5 1104.6 878 L1081.3 819.8 L1041.9 732.1 Z" fill="#fff"/>
<path d="M981.3 624.9 L989 633.2 L996.6 631.9 L1001.6 639.5 L1004.2 642 L1009.3 640.8 L1043.8 730.8 C1045 734 1049 733.5 1052 732 C1056 730 1060 728 1058.4 723.2 L1023.2 634.5 L1022 626.8 L1016.9 620.5 L1011.8 615.4 Z" fill="#fff"/>
<path d="M1043.8 730.8 L1058.4 723.2"/>
<path d="M1044.5 688.3 L1055.9 718.1"/>
<path d="M1000.4 626.8 L1013.0 620.6 L1015.5 623.5 L1002.5 630.0Z"/>
<path d="M959.7 566.2 L978.8 557.3 L982.6 563.7 L961.0 575.1Z" fill="#fff"/>
<path d="M960.3 570.3 L980.6 560.6"/>
<path d="M990.5 518.2 C987 518.5 985 519.5 983.9 520.5 L967.3 534.5 L948.3 542.7 C945.5 544 944.5 546 945.1 548.4 C945.8 551.5 946.5 553 947.6 553.5 L955.9 551 C959 550.3 960.5 552.3 959.7 553.5 C958 556 953 557 950.8 558.6 L953.4 565 C954.5 567 957 567 958.4 566.2 L959.7 566.2 L978.8 557.3 L978.8 556.1 L1004.2 545.9 L1010 539 Z" fill="#fff"/>
<path d="M967.3 534.5 C965 539 966 548 970 552.5 C973 556 977 557 978.8 556.1"/>
<circle cx="999.7" cy="528.8" r="14" fill="#fff"/>
<circle cx="999.7" cy="528.8" r="10.4"/>
<circle cx="949.3" cy="548.2" r="1.1"/>
<circle cx="955.3" cy="561.8" r="1.1"/>
<path d="M1303.5 568.2 L1396.3 562.1 L1423.2 558.5 L1446.4 558.5 L1474.2 562.1 L1569 568.2 C1571.5 568.4 1572.3 569.5 1572.3 571 L1572.3 583 C1572.3 585 1571.5 585.8 1569 585.9 L1476.9 580 L1446.4 578.2 L1423.2 578.2 L1396.3 580 L1303.5 585.9 C1301.3 586 1300.5 585 1300.5 583 L1300.5 571 C1300.5 569.3 1301.3 568.4 1303.5 568.2 Z" fill="#fff"/>
<path d="M1423.3 560 C1423.3 557 1425 555.8 1428 555.8 L1441 555.8 C1444 555.8 1445.6 557 1445.6 560 L1445.6 612 C1445.6 620 1441 624.8 1434.4 624.8 C1428 624.8 1423.3 620 1423.3 612 Z" fill="#fff"/>
<path d="M1423.3 580.5 C1428 578.6 1441 578.6 1445.6 580.5"/>
<circle cx="1434.4" cy="609.5" r="7.2"/>
<circle cx="1434.4" cy="609.5" r="2.0" fill="#c8c8c8"/>
<path d="M1505.8 858.2 L1505.1 859.2 L1503.6 860.1 L1502.1 861.0 L1501.2 861.9 L1501.0 862.9 L1501.1 863.8 L1501.8 864.8 L1503.2 865.9 L1504.6 867.1 L1505.1 868.2 L1504.3 869.1 L1502.6 869.8 L1500.9 870.4 L1500.0 871.2 L1499.6 872.1 L1499.6 873.0 L1500.1 874.1 L1501.3 875.4 L1502.5 876.8 L1502.8 877.9 L1501.9 878.7 L1500.2 879.2 L1498.4 879.6 L1497.3 880.2 L1496.9 881.0 L1496.7 881.9 L1497.0 883.1 L1498.0 884.6 L1499.0 886.1 L1499.2 887.3 L1498.1 887.9 L1496.3 888.1 L1494.6 888.2 L1493.4 888.7 L1492.8 889.4 L1492.5 890.3 L1492.7 891.5 L1493.4 893.1 L1494.2 894.8 L1494.2 895.9 L1493.1 896.4 L1491.3 896.3 L1489.5 896.2 L1488.3 896.5 L1487.6 897.1 L1487.1 897.9 L1487.1 899.2 L1487.6 900.9 L1488.1 902.6 L1487.9 903.8 L1486.8 904.1 L1485.0 903.7 L1483.2 903.3 L1482.0 903.4 L1481.2 903.9 L1480.6 904.7 L1480.5 905.9 L1480.7 907.7 L1480.9 909.5 L1480.6 910.6 L1479.4 910.7 L1477.7 910.1 L1476.0 909.4 L1474.8 909.3 L1474.0 909.8 L1473.3 910.4 L1472.9 911.6 L1472.9 913.4 L1472.8 915.2 L1472.3 916.2 L1471.1 916.2 L1469.5 915.3 L1468.0 914.4 L1466.8 914.1 L1465.9 914.4 L1465.1 914.9 L1464.6 916.1 L1464.3 917.8 L1464.0 919.6 L1463.3 920.6 L1462.1 920.3 L1460.7 919.2 L1459.3 918.1 L1458.1 917.7 L1457.2 917.8 L1456.3 918.2 L1455.6 919.3 L1455.1 921.0 L1454.5 922.7 L1453.7 923.5 L1452.6 923.1 L1451.3 921.8 L1450.1 920.5 L1449.0 919.9 L1448.1 919.9 L1447.2 920.2 L1446.4 921.1 L1445.6 922.7 L1444.7 924.3 L1443.8 925.0 L1442.8 924.4 L1441.7 923.0 L1440.7 921.5 L1439.7 920.7 L1438.8 920.6 L1437.9 920.7 L1436.9 921.5 L1435.9 923.0 L1434.8 924.4 L1433.8 925.0 L1432.9 924.3 L1432.0 922.7 L1431.2 921.1 L1430.4 920.2 L1429.5 919.9 L1428.6 919.9 L1427.5 920.5 L1426.3 921.8 L1425.0 923.1 L1423.9 923.5 L1423.1 922.7 L1422.5 921.0 L1422.0 919.3 L1421.3 918.2 L1420.4 917.8 L1419.5 917.7 L1418.3 918.1 L1416.9 919.2 L1415.5 920.3 L1414.3 920.6 L1413.6 919.6 L1413.3 917.8 L1413.0 916.1 L1412.5 914.9 L1411.7 914.4 L1410.8 914.1 L1409.6 914.4 L1408.1 915.3 L1406.5 916.2 L1405.3 916.2 L1404.8 915.2 L1404.7 913.4 L1404.7 911.6 L1404.3 910.4 L1403.6 909.8 L1402.8 909.3 L1401.6 909.4 L1399.9 910.1 L1398.2 910.7 L1397.0 910.6 L1396.7 909.5 L1396.9 907.7 L1397.1 905.9 L1397.0 904.7 L1396.4 903.9 L1395.6 903.4 L1394.4 903.3 L1392.6 903.7 L1390.8 904.1 L1389.7 903.8 L1389.5 902.6 L1390.0 900.9 L1390.5 899.2 L1390.5 897.9 L1390.0 897.1 L1389.3 896.5 L1388.1 896.2 L1386.3 896.3 L1384.5 896.4 L1383.4 895.9 L1383.4 894.8 L1384.2 893.1 L1384.9 891.5 L1385.1 890.3 L1384.8 889.4 L1384.2 888.7 L1383.0 888.2 L1381.3 888.1 L1379.5 887.9 L1378.4 887.3 L1378.6 886.1 L1379.6 884.6 L1380.6 883.1 L1380.9 881.9 L1380.7 881.0 L1380.3 880.2 L1379.2 879.6 L1377.4 879.2 L1375.7 878.7 L1374.8 877.9 L1375.1 876.8 L1376.3 875.4 L1377.5 874.1 L1378.0 873.0 L1378.0 872.1 L1377.6 871.2 L1376.7 870.4 L1375.0 869.8 L1373.3 869.1 L1372.5 868.2 L1373.0 867.1 L1374.4 865.9 L1375.8 864.8 L1376.5 863.8 L1376.6 862.9 L1376.4 861.9 L1375.5 861.0 L1374.0 860.1 L1372.5 859.2 L1371.8 858.2 L1372.5 857.2 L1374.0 856.3 L1375.5 855.4 L1376.4 854.5 L1376.6 853.5 L1376.5 852.6 L1375.8 851.6 L1374.4 850.5 L1373.0 849.3 L1372.5 848.2 L1373.3 847.3 L1375.0 846.6 L1376.7 846.0 L1377.6 845.2 L1378.0 844.3 L1378.0 843.4 L1377.5 842.3 L1376.3 841.0 L1375.1 839.6 L1374.8 838.5 L1375.7 837.7 L1377.4 837.2 L1379.2 836.8 L1380.3 836.2 L1380.7 835.4 L1380.9 834.5 L1380.6 833.3 L1379.6 831.8 L1378.6 830.3 L1378.4 829.1 L1379.5 828.5 L1381.3 828.3 L1383.0 828.2 L1384.2 827.7 L1384.8 827.0 L1385.1 826.1 L1384.9 824.9 L1384.2 823.3 L1383.4 821.6 L1383.4 820.5 L1384.5 820.0 L1386.3 820.1 L1388.1 820.2 L1389.3 819.9 L1390.0 819.3 L1390.5 818.5 L1390.5 817.2 L1390.0 815.5 L1389.5 813.8 L1389.7 812.6 L1390.8 812.3 L1392.6 812.7 L1394.4 813.1 L1395.6 813.0 L1396.4 812.5 L1397.0 811.7 L1397.1 810.5 L1396.9 808.7 L1396.7 806.9 L1397.0 805.8 L1398.2 805.7 L1399.9 806.3 L1401.6 807.0 L1402.8 807.1 L1403.6 806.6 L1404.3 806.0 L1404.7 804.8 L1404.7 803.0 L1404.8 801.2 L1405.3 800.2 L1406.5 800.2 L1408.1 801.1 L1409.6 802.0 L1410.8 802.3 L1411.7 802.0 L1412.5 801.5 L1413.0 800.3 L1413.3 798.6 L1413.6 796.8 L1414.3 795.8 L1415.5 796.1 L1416.9 797.2 L1418.3 798.3 L1419.5 798.7 L1420.4 798.6 L1421.3 798.2 L1422.0 797.1 L1422.5 795.4 L1423.1 793.7 L1423.9 792.9 L1425.0 793.3 L1426.3 794.6 L1427.5 795.9 L1428.6 796.5 L1429.5 796.5 L1430.4 796.2 L1431.2 795.3 L1432.0 793.7 L1432.9 792.1 L1433.8 791.4 L1434.8 792.0 L1435.9 793.4 L1436.9 794.9 L1437.9 795.7 L1438.8 795.8 L1439.7 795.7 L1440.7 794.9 L1441.7 793.4 L1442.8 792.0 L1443.8 791.4 L1444.7 792.1 L1445.6 793.7 L1446.4 795.3 L1447.2 796.2 L1448.1 796.5 L1449.0 796.5 L1450.1 795.9 L1451.3 794.6 L1452.6 793.3 L1453.7 792.9 L1454.5 793.7 L1455.1 795.4 L1455.6 797.1 L1456.3 798.2 L1457.2 798.6 L1458.1 798.7 L1459.3 798.3 L1460.7 797.2 L1462.1 796.1 L1463.3 795.8 L1464.0 796.8 L1464.3 798.6 L1464.6 800.3 L1465.1 801.5 L1465.9 802.0 L1466.8 802.3 L1468.0 802.0 L1469.5 801.1 L1471.1 800.2 L1472.3 800.2 L1472.8 801.2 L1472.9 803.0 L1472.9 804.8 L1473.3 806.0 L1474.0 806.6 L1474.8 807.1 L1476.0 807.0 L1477.7 806.3 L1479.4 805.7 L1480.6 805.8 L1480.9 806.9 L1480.7 808.7 L1480.5 810.5 L1480.6 811.7 L1481.2 812.5 L1482.0 813.0 L1483.2 813.1 L1485.0 812.7 L1486.8 812.3 L1487.9 812.6 L1488.1 813.8 L1487.6 815.5 L1487.1 817.2 L1487.1 818.5 L1487.6 819.3 L1488.3 819.9 L1489.5 820.2 L1491.3 820.1 L1493.1 820.0 L1494.2 820.5 L1494.2 821.6 L1493.4 823.3 L1492.7 824.9 L1492.5 826.1 L1492.8 827.0 L1493.4 827.7 L1494.6 828.2 L1496.3 828.3 L1498.1 828.5 L1499.2 829.1 L1499.0 830.3 L1498.0 831.8 L1497.0 833.3 L1496.7 834.5 L1496.9 835.4 L1497.3 836.2 L1498.4 836.8 L1500.2 837.2 L1501.9 837.7 L1502.8 838.5 L1502.5 839.6 L1501.3 841.0 L1500.1 842.3 L1499.6 843.4 L1499.6 844.3 L1500.0 845.2 L1500.9 846.0 L1502.6 846.6 L1504.3 847.3 L1505.1 848.2 L1504.6 849.3 L1503.2 850.5 L1501.8 851.6 L1501.1 852.6 L1501.0 853.5 L1501.2 854.5 L1502.1 855.4 L1503.6 856.3 L1505.1 857.2Z"/>
<ellipse cx="1413.2" cy="830.8" rx="18" ry="14.6" transform="rotate(-133 1413.2 830.8)"/>
<path d="M1433.2 818.6 C1431.0 816.6 1423.8 808.9 1423.9 806.3 C1424.0 803.7 1430.5 803.2 1434.0 802.9 C1437.4 802.6 1443.9 801.9 1444.4 804.5 C1445.0 807.0 1439.3 815.9 1437.4 818.2 C1435.5 820.6 1435.5 820.6 1433.2 818.6Z"/>
<ellipse cx="1458.7" cy="826.4" rx="18" ry="14.6" transform="rotate(-58 1458.7 826.4)"/>
<path d="M1474.8 840.7 C1475.9 837.9 1481.0 828.7 1483.6 828.0 C1486.1 827.3 1488.5 833.4 1489.9 836.5 C1491.2 839.7 1493.9 845.6 1491.6 847.0 C1489.4 848.3 1479.2 845.6 1476.4 844.5 C1473.6 843.5 1473.6 843.4 1474.8 840.7Z"/>
<ellipse cx="1475.5" cy="866.0" rx="18" ry="14.6" transform="rotate(12 1475.5 866.0)"/>
<path d="M1466.6 887.0 C1469.6 887.3 1479.9 889.3 1481.4 891.4 C1482.8 893.6 1477.8 897.8 1475.2 900.1 C1472.6 902.3 1467.8 906.7 1465.8 905.0 C1463.8 903.2 1463.3 892.7 1463.4 889.7 C1463.6 886.7 1463.6 886.7 1466.6 887.0Z"/>
<ellipse cx="1442.7" cy="895.5" rx="18" ry="14.6" transform="rotate(84 1442.7 895.5)"/>
<path d="M1420.0 893.5 C1420.7 896.4 1422.0 906.9 1420.3 908.9 C1418.7 911.0 1413.2 907.5 1410.2 905.8 C1407.3 904.0 1401.6 900.7 1402.7 898.3 C1403.7 895.9 1413.5 892.2 1416.4 891.4 C1419.3 890.6 1419.4 890.6 1420.0 893.5Z"/>
<ellipse cx="1405.4" cy="875.2" rx="18" ry="14.6" transform="rotate(153 1405.4 875.2)"/>
<path d="M1399.4 851.3 C1396.8 852.8 1387.3 857.2 1384.8 856.3 C1382.4 855.4 1383.9 849.1 1384.7 845.7 C1385.5 842.4 1386.9 836.0 1389.5 836.2 C1392.1 836.5 1398.7 844.7 1400.3 847.2 C1402.0 849.7 1402.0 849.7 1399.4 851.3Z"/>
<g clip-path="url(#ov)"><path d="M1483.8 858.2 L1483.2 859.2 L1481.9 860.1 L1480.5 861.0 L1479.8 861.9 L1479.5 862.8 L1479.5 863.7 L1480.1 864.7 L1481.2 865.9 L1482.3 867.1 L1482.7 868.2 L1481.9 869.1 L1480.4 869.7 L1478.8 870.2 L1477.9 870.9 L1477.5 871.7 L1477.3 872.6 L1477.6 873.8 L1478.4 875.1 L1479.3 876.6 L1479.3 877.7 L1478.4 878.4 L1476.8 878.6 L1475.2 878.8 L1474.1 879.3 L1473.5 880.0 L1473.1 880.9 L1473.2 882.0 L1473.7 883.5 L1474.2 885.1 L1474.0 886.3 L1472.9 886.7 L1471.3 886.6 L1469.7 886.4 L1468.5 886.6 L1467.8 887.2 L1467.2 887.9 L1467.0 889.1 L1467.2 890.7 L1467.3 892.3 L1466.9 893.4 L1465.7 893.6 L1464.1 893.1 L1462.6 892.6 L1461.5 892.5 L1460.6 892.9 L1459.9 893.5 L1459.4 894.6 L1459.2 896.2 L1459.0 897.8 L1458.3 898.7 L1457.2 898.7 L1455.7 897.8 L1454.4 897.0 L1453.2 896.7 L1452.3 896.9 L1451.5 897.3 L1450.8 898.2 L1450.3 899.8 L1449.7 901.3 L1448.8 902.1 L1447.7 901.7 L1446.5 900.6 L1445.3 899.5 L1444.3 898.9 L1443.4 898.9 L1442.5 899.2 L1441.6 899.9 L1440.7 901.3 L1439.8 902.6 L1438.8 903.2 L1437.8 902.6 L1436.9 901.3 L1436.0 899.9 L1435.1 899.2 L1434.2 898.9 L1433.3 898.9 L1432.3 899.5 L1431.1 900.6 L1429.9 901.7 L1428.8 902.1 L1427.9 901.3 L1427.3 899.8 L1426.8 898.2 L1426.1 897.3 L1425.3 896.9 L1424.4 896.7 L1423.2 897.0 L1421.9 897.8 L1420.4 898.7 L1419.3 898.7 L1418.6 897.8 L1418.4 896.2 L1418.2 894.6 L1417.7 893.5 L1417.0 892.9 L1416.1 892.5 L1415.0 892.6 L1413.5 893.1 L1411.9 893.6 L1410.7 893.4 L1410.3 892.3 L1410.4 890.7 L1410.6 889.1 L1410.4 887.9 L1409.8 887.2 L1409.1 886.6 L1407.9 886.4 L1406.3 886.6 L1404.7 886.7 L1403.6 886.3 L1403.4 885.1 L1403.9 883.5 L1404.4 882.0 L1404.5 880.9 L1404.1 880.0 L1403.5 879.3 L1402.4 878.8 L1400.8 878.6 L1399.2 878.4 L1398.3 877.7 L1398.3 876.6 L1399.2 875.1 L1400.0 873.8 L1400.3 872.6 L1400.1 871.7 L1399.7 870.9 L1398.8 870.2 L1397.2 869.7 L1395.7 869.1 L1394.9 868.2 L1395.3 867.1 L1396.4 865.9 L1397.5 864.7 L1398.1 863.7 L1398.1 862.8 L1397.8 861.9 L1397.1 861.0 L1395.7 860.1 L1394.4 859.2 L1393.8 858.2 L1394.4 857.2 L1395.7 856.3 L1397.1 855.4 L1397.8 854.5 L1398.1 853.6 L1398.1 852.7 L1397.5 851.7 L1396.4 850.5 L1395.3 849.3 L1394.9 848.2 L1395.7 847.3 L1397.2 846.7 L1398.8 846.2 L1399.7 845.5 L1400.1 844.7 L1400.3 843.8 L1400.0 842.6 L1399.2 841.3 L1398.3 839.8 L1398.3 838.7 L1399.2 838.0 L1400.8 837.8 L1402.4 837.6 L1403.5 837.1 L1404.1 836.4 L1404.5 835.5 L1404.4 834.4 L1403.9 832.9 L1403.4 831.3 L1403.6 830.1 L1404.7 829.7 L1406.3 829.8 L1407.9 830.0 L1409.1 829.8 L1409.8 829.2 L1410.4 828.5 L1410.6 827.3 L1410.4 825.7 L1410.3 824.1 L1410.7 823.0 L1411.9 822.8 L1413.5 823.3 L1415.0 823.8 L1416.1 823.9 L1417.0 823.5 L1417.7 822.9 L1418.2 821.8 L1418.4 820.2 L1418.6 818.6 L1419.3 817.7 L1420.4 817.7 L1421.9 818.6 L1423.2 819.4 L1424.4 819.7 L1425.3 819.5 L1426.1 819.1 L1426.8 818.2 L1427.3 816.6 L1427.9 815.1 L1428.8 814.3 L1429.9 814.7 L1431.1 815.8 L1432.3 816.9 L1433.3 817.5 L1434.2 817.5 L1435.1 817.2 L1436.0 816.5 L1436.9 815.1 L1437.8 813.8 L1438.8 813.2 L1439.8 813.8 L1440.7 815.1 L1441.6 816.5 L1442.5 817.2 L1443.4 817.5 L1444.3 817.5 L1445.3 816.9 L1446.5 815.8 L1447.7 814.7 L1448.8 814.3 L1449.7 815.1 L1450.3 816.6 L1450.8 818.2 L1451.5 819.1 L1452.3 819.5 L1453.2 819.7 L1454.4 819.4 L1455.7 818.6 L1457.2 817.7 L1458.3 817.7 L1459.0 818.6 L1459.2 820.2 L1459.4 821.8 L1459.9 822.9 L1460.6 823.5 L1461.5 823.9 L1462.6 823.8 L1464.1 823.3 L1465.7 822.8 L1466.9 823.0 L1467.3 824.1 L1467.2 825.7 L1467.0 827.3 L1467.2 828.5 L1467.8 829.2 L1468.5 829.8 L1469.7 830.0 L1471.3 829.8 L1472.9 829.7 L1474.0 830.1 L1474.2 831.3 L1473.7 832.9 L1473.2 834.4 L1473.1 835.5 L1473.5 836.4 L1474.1 837.1 L1475.2 837.6 L1476.8 837.8 L1478.4 838.0 L1479.3 838.7 L1479.3 839.8 L1478.4 841.3 L1477.6 842.6 L1477.3 843.8 L1477.5 844.7 L1477.9 845.5 L1478.8 846.2 L1480.4 846.7 L1481.9 847.3 L1482.7 848.2 L1482.3 849.3 L1481.2 850.5 L1480.1 851.7 L1479.5 852.7 L1479.5 853.6 L1479.8 854.5 L1480.5 855.4 L1481.9 856.3 L1483.2 857.2Z"/><circle cx="1438.8" cy="858.2" r="33"/></g>
<path d="M1427.7 870.4 L1501.3 933.6 A14 14 0 0 0 1520.1 912.8 L1449.9 846.0 A16.5 16.5 0 0 0 1427.7 870.4Z" fill="#fff"/>
<circle cx="1438.8" cy="858.2" r="10"/>
<circle cx="1510.7" cy="923.2" r="7.3"/>
</g>
<g fill="#1b2484" stroke="#333b8b" stroke-width="1.7">
<line x1="662.3" y1="484.3" x2="946.1" y2="484.3" stroke-width="1.7"/><polygon stroke="none" points="956.9,484.3 945.1,489.2 945.1,479.4"/><polygon stroke="none" points="651.5,484.3 663.3,479.4 663.3,489.2"/>
<circle cx="805.4" cy="484.2" r="11.4" stroke="none"/><text transform="translate(805.4 491.5) scale(0.9 1)" text-anchor="middle" font-size="20" class="lt">C</text>
<line x1="758.6" y1="514.7" x2="946.1" y2="514.7" stroke-width="1.7"/><polygon stroke="none" points="956.9,514.7 945.1,519.6 945.1,509.8"/><polygon stroke="none" points="747.8,514.7 759.6,509.8 759.6,519.6"/>
<circle cx="852.1" cy="514.8" r="11.4" stroke="none"/><text transform="translate(852.1 522.1) scale(0.9 1)" text-anchor="middle" font-size="20" class="lt">L</text>
<line x1="748.2" y1="516" x2="748.2" y2="884" stroke-width="1.7" stroke-dasharray="4.1 4.1"/>
<line x1="513.5" y1="874.3" x2="780" y2="874.3" stroke-width="1.7" stroke-dasharray="4.1 4.1"/>
<line x1="748" y1="884.3" x2="980.5" y2="884.3" stroke-width="1.7" stroke-dasharray="4.1 4.1"/>
<line x1="748" y1="884.2" x2="710.3" y2="692.6"/>
<polygon stroke="none" points="708.5,683.2 715.6,693.8 706.0,695.7"/>
<circle cx="722.6" cy="760.1" r="11.4" stroke="none"/><text transform="translate(722.6 767.4) scale(0.9 1)" text-anchor="middle" font-size="20" class="lt">A</text>
<line x1="774.4" y1="704.8" x2="774.4" y2="1056.4" stroke-width="1.7"/><polygon stroke="none" points="774.4,1067.2 769.5,1055.4 779.3,1055.4"/><polygon stroke="none" points="774.4,694.0 779.3,705.8 769.5,705.8"/>
<circle cx="774.7" cy="832.3" r="11.4" stroke="none"/><text transform="translate(774.7 839.6) scale(0.9 1)" text-anchor="middle" font-size="20" class="lt">M</text>
<line x1="487.6" y1="699.9" x2="487.6" y2="1056.1" stroke-width="1.7"/><polygon stroke="none" points="487.6,1066.9 482.7,1055.1 492.5,1055.1"/><polygon stroke="none" points="487.6,689.1 492.5,700.9 482.7,700.9"/>
<circle cx="487.7" cy="880.3" r="11.4" stroke="none"/><text transform="translate(487.7 887.6) scale(0.9 1)" text-anchor="middle" font-size="20" class="lt">Q</text>
<line x1="980.3" y1="581.5" x2="980.3" y2="872.3" stroke-width="1.7"/><polygon stroke="none" points="980.3,883.1 975.4,871.3 985.2,871.3"/><polygon stroke="none" points="980.3,570.7 985.2,582.5 975.4,582.5"/>
<circle cx="980.3" cy="717.7" r="11.4" stroke="none"/><text transform="translate(980.3 725.0) scale(0.9 1)" text-anchor="middle" font-size="20" class="lt">K</text>
<line x1="514.8" y1="946.2" x2="1105.6" y2="946.2" stroke-width="1.7"/><polygon stroke="none" points="1116.4,946.2 1104.6,951.1 1104.6,941.3"/><polygon stroke="none" points="504.0,946.2 515.8,941.3 515.8,951.1"/>
<circle cx="840.0" cy="946.2" r="11.4" stroke="none"/><text transform="translate(840.0 953.5) scale(0.9 1)" text-anchor="middle" font-size="20" class="lt">H</text>
<line x1="513.9" y1="902.3" x2="701.0" y2="926.4" stroke-width="1.7"/><polygon stroke="none" points="711.7,927.8 699.4,931.1 700.6,921.4"/><polygon stroke="none" points="503.2,900.9 515.5,897.6 514.3,907.3"/>
<circle cx="587.4" cy="911.8" r="11.4" stroke="none"/><text transform="translate(587.4 919.1) scale(0.9 1)" text-anchor="middle" font-size="20" class="lt">I</text>
<line x1="785.9" y1="874.1" x2="785.9" y2="884.7" stroke-width="1.7"/><polygon stroke="none" points="785.9,894.3 781.4,883.7 790.4,883.7"/><polygon stroke="none" points="785.9,864.5 790.4,875.1 781.4,875.1"/>
<circle cx="807.5" cy="868.0" r="11.4" stroke="none"/><text transform="translate(807.5 875.3) scale(0.9 1)" text-anchor="middle" font-size="20" class="lt">J</text>
<path d="M723.9 836.7 A48.2 48.2 0 0 0 688.9 868.5" fill="none" stroke-width="1.6"/><polygon stroke="none" points="724.5,836.5 715.0,845.1 711.7,835.8"/><polygon stroke="none" points="688.6,869.0 689.2,856.3 698.1,860.4"/>
<circle cx="692.3" cy="834.8" r="11.4" stroke="none"/><text transform="translate(692.3 842.1) scale(0.9 1)" text-anchor="middle" font-size="20" class="lt">B</text>
<path d="M1088.9 850.2 A38.5 38.5 0 0 0 1054.6 890.2" fill="none" stroke-width="1.6"/><polygon stroke="none" points="1089.5,850.0 1079.3,857.8 1076.8,848.3"/><polygon stroke="none" points="1054.5,890.8 1050.9,878.6 1060.6,879.6"/>
<circle cx="1080.0" cy="877.8" r="11.4" stroke="none"/><text transform="translate(1080.0 885.1) scale(0.9 1)" text-anchor="middle" font-size="20" class="lt">E</text>
<line x1="1002.7" y1="561.6" x2="1020.9" y2="602.7" stroke-width="1.7"/><polygon stroke="none" points="1025.3,612.5 1016.1,603.8 1025.0,599.8"/><polygon stroke="none" points="998.3,551.8 1007.5,560.5 998.6,564.5"/>
<circle cx="1011.8" cy="582.1" r="11.4" stroke="none"/><text transform="translate(1011.8 589.4) scale(0.9 1)" text-anchor="middle" font-size="20" class="lt">D</text>
<line x1="1120.2" y1="895.0" x2="1125.0" y2="892.7" stroke-width="1.7"/><polygon stroke="none" points="1133.9,888.7 1125.9,897.1 1122.3,889.2"/><polygon stroke="none" points="1111.3,899.0 1119.3,890.6 1122.9,898.5"/>
<circle cx="1130.6" cy="915.4" r="11.4" stroke="none"/><text transform="translate(1130.6 922.7) scale(0.9 1)" text-anchor="middle" font-size="20" class="lt">F</text>
<line x1="1112.7" y1="962.3" x2="1112.7" y2="1078" stroke-width="1.7" stroke-dasharray="4.1 4.1"/>
<line x1="1150.5" y1="959.2" x2="1200.4" y2="1077.6" stroke-width="1.7" stroke-dasharray="4.1 4.1"/>
<line x1="1124.4" y1="1080.8" x2="1187.7" y2="1080.8" stroke-width="1.7"/><polygon stroke="none" points="1198.5,1080.8 1186.7,1085.7 1186.7,1075.9"/><polygon stroke="none" points="1113.6,1080.8 1125.4,1075.9 1125.4,1085.7"/>
<circle cx="1155.2" cy="1081.4" r="11.4" stroke="none"/><text transform="translate(1155.2 1088.7) scale(0.9 1)" text-anchor="middle" font-size="20" class="lt">G</text>
<line x1="1314.0" y1="646.7" x2="1566.3" y2="646.7" stroke-width="1.7"/><polygon stroke="none" points="1577.1,646.7 1565.3,651.6 1565.3,641.8"/><polygon stroke="none" points="1303.2,646.7 1315.0,641.8 1315.0,651.6"/>
<circle cx="1434.3" cy="646.7" r="11.4" stroke="none"/><text transform="translate(1434.3 654.0) scale(0.9 1)" text-anchor="middle" font-size="20" class="lt">N</text>
<line x1="1462.2" y1="566.0" x2="1462.2" y2="612.7" stroke-width="1.7"/><polygon stroke="none" points="1462.2,623.5 1457.3,611.7 1467.1,611.7"/><polygon stroke="none" points="1462.2,555.2 1467.1,567.0 1457.3,567.0"/>
<circle cx="1462.2" cy="588.4" r="11.4" stroke="none"/><text transform="translate(1462.2 595.7) scale(0.9 1)" text-anchor="middle" font-size="20" class="lt">O</text>
<line x1="1463.6" y1="832.3" x2="1537.9" y2="898.8" stroke-width="1.7"/><polygon stroke="none" points="1545.9,906.0 1533.9,901.8 1540.4,894.5"/><polygon stroke="none" points="1455.6,825.1 1467.6,829.3 1461.1,836.6"/>
<circle cx="1498.7" cy="863.9" r="11.4" stroke="none"/><text transform="translate(1498.7 871.2) scale(0.9 1)" text-anchor="middle" font-size="20" class="lt">P</text>
</g>
</svg>
</body></html>
